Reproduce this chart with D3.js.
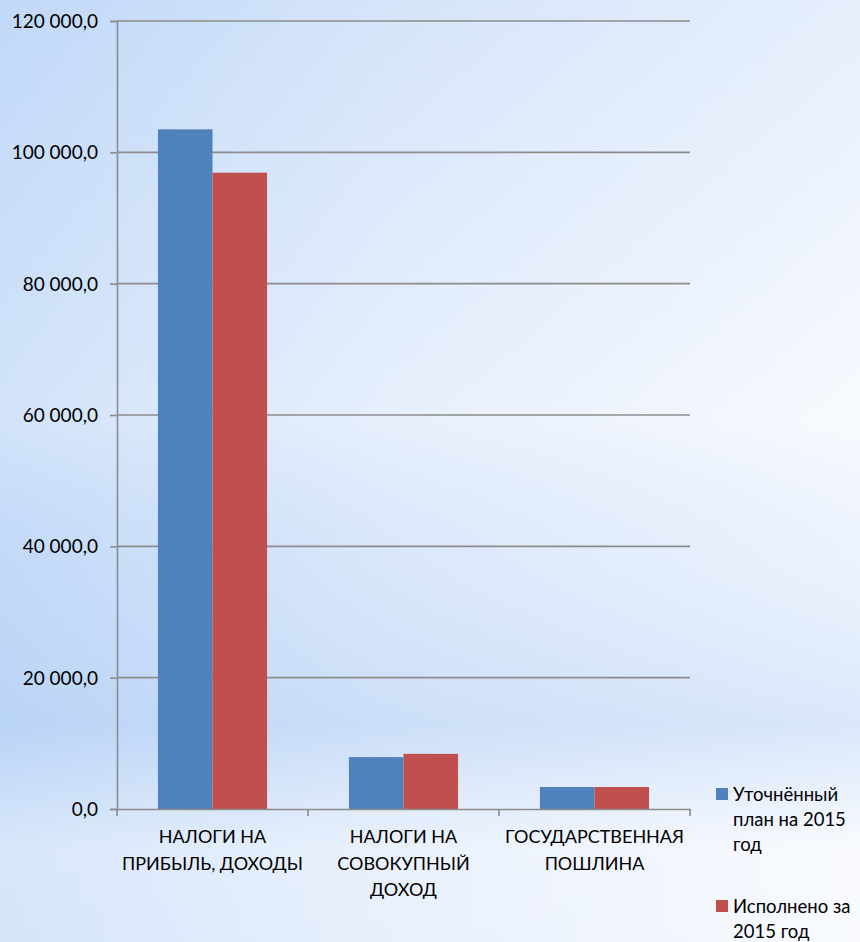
<html>
<head>
<meta charset="utf-8">
<script src="https://d3js.org/d3.v7.min.js"></script>
<style>
  body { margin:0; padding:0; }
  svg text { font-family: Lato, "Open Sans", sans-serif; fill:#000; }
</style>
</head>
<body>
<svg id="chart" width="860" height="942"></svg>
<script>
// data
var categories = ["НАЛОГИ НА ПРИБЫЛЬ, ДОХОДЫ", "НАЛОГИ НА СОВОКУПНЫЙ ДОХОД", "ГОСУДАРСТВЕННАЯ ПОШЛИНА"];
var catLines = [["НАЛОГИ НА", "ПРИБЫЛЬ, ДОХОДЫ"], ["НАЛОГИ НА", "СОВОКУПНЫЙ", "ДОХОД"], ["ГОСУДАРСТВЕННАЯ", "ПОШЛИНА"]];
var seriesNames = ["Уточнённый план на 2015 год", "Исполнено за 2015 год"];
var legendLines = [["Уточнённый", "план на 2015", "год"], ["Исполнено за", "2015 год"]];
var planValues = [103500, 7900, 3350];
var factValues = [96900, 8400, 3350];
var yTicks = [0, 20000, 40000, 60000, 80000, 100000, 120000];
var colors = ["#4f81bd", "#c0504d"];

var svg = d3.select("#chart");

// background
var defs = svg.append("defs");
var g1 = defs.append("linearGradient").attr("id", "bgH").attr("x1", 0).attr("x2", 1).attr("y1", 0).attr("y2", 0);
g1.append("stop").attr("offset", "0%").attr("stop-color", "#c3daf8");
g1.append("stop").attr("offset", "45%").attr("stop-color", "#dfeafb");
g1.append("stop").attr("offset", "100%").attr("stop-color", "#f5f8fe");
var g2 = defs.append("linearGradient").attr("id", "bgV").attr("x1", 0).attr("x2", 0).attr("y1", 0).attr("y2", 1);
g2.append("stop").attr("offset", "0%").attr("stop-color", "#b9d3f6").attr("stop-opacity", 0.25);
g2.append("stop").attr("offset", "45%").attr("stop-color", "#ffffff").attr("stop-opacity", 0.25);
g2.append("stop").attr("offset", "60%").attr("stop-color", "#b9d3f6").attr("stop-opacity", 0.15);
g2.append("stop").attr("offset", "77%").attr("stop-color", "#a9c8f3").attr("stop-opacity", 0.35);
g2.append("stop").attr("offset", "90%").attr("stop-color", "#ffffff").attr("stop-opacity", 0.35);
g2.append("stop").attr("offset", "100%").attr("stop-color", "#ffffff").attr("stop-opacity", 0.3);
svg.append("rect").attr("width", 860).attr("height", 942).attr("fill", "url(#bgH)");
svg.append("rect").attr("width", 860).attr("height", 942).attr("fill", "url(#bgV)");

var plotLeft = 117, plotRight = 690, plotTop = 21, plotBottom = 809;

var x = d3.scaleBand().domain(categories).range([plotLeft, plotRight]).paddingInner(0).paddingOuter(0);
var x1 = d3.scaleBand().domain([0, 1]).range([0, x.bandwidth()]).paddingInner(0).paddingOuter(0.75);
var y = d3.scaleLinear().domain([0, 120000]).range([plotBottom, plotTop]);

var fmt = function (d) {
  return d3.format(",.1f")(d).replace(/,/g, " ").replace(".", ",");
};

// gridlines
svg.append("g").selectAll("line").data(yTicks.filter(function (d) { return d > 0; })).enter()
  .append("line")
  .attr("x1", plotLeft).attr("x2", plotRight)
  .attr("y1", function (d) { return y(d); }).attr("y2", function (d) { return y(d); })
  .attr("stroke", "#8c8c8c").attr("stroke-width", 1.6);

// bars
var data = categories.map(function (c, i) { return { cat: c, vals: [planValues[i], factValues[i]] }; });
var groups = svg.append("g").selectAll("g").data(data).enter().append("g")
  .attr("transform", function (d) { return "translate(" + x(d.cat) + ",0)"; });
groups.selectAll("rect").data(function (d) { return d.vals; }).enter().append("rect")
  .attr("x", function (d, i) { return x1(i); })
  .attr("width", x1.bandwidth())
  .attr("y", function (d) { return y(d); })
  .attr("height", function (d) { return plotBottom - y(d); })
  .attr("fill", function (d, i) { return colors[i]; });

// y axis
var yAxis = svg.append("g").attr("transform", "translate(" + plotLeft + ",0)")
  .call(d3.axisLeft(y).tickValues(yTicks).tickFormat(fmt).tickSize(7).tickPadding(12));
yAxis.select(".domain").attr("stroke", "#8c8c8c").attr("stroke-width", 1.6);
yAxis.selectAll(".tick line").attr("stroke", "#8c8c8c").attr("stroke-width", 1.6);
yAxis.selectAll(".tick text").attr("font-size", 19).attr("font-family", "Lato, sans-serif").attr("fill", "#000").attr("dy", "0.35em");

// x axis
var xAxis = svg.append("g").attr("transform", "translate(0," + plotBottom + ")")
  .call(d3.axisBottom(x).tickSize(0).tickFormat(""));
xAxis.select(".domain").attr("stroke", "#8c8c8c").attr("stroke-width", 1.6);
xAxis.append("g").selectAll("line").data(d3.range(categories.length + 1)).enter().append("line")
  .attr("x1", function (i) { return plotLeft + i * x.step(); })
  .attr("x2", function (i) { return plotLeft + i * x.step(); })
  .attr("y1", 0).attr("y2", 7)
  .attr("stroke", "#8c8c8c").attr("stroke-width", 1.6);

// category labels
var lab = svg.append("g").selectAll("text").data(categories).enter().append("text")
  .attr("text-anchor", "middle")
  .attr("font-size", 18)
  .attr("x", function (d) { return x(d) + x.bandwidth() / 2; })
  .attr("y", 843);
lab.selectAll("tspan").data(function (d, i) { return catLines[i]; }).enter().append("tspan")
  .attr("x", function () { return d3.select(this.parentNode).attr("x"); })
  .attr("dy", function (d, i) { return i === 0 ? 0 : 26.5; })
  .text(function (d) { return d; });

// legend
var legY = [794, 906];
var leg = svg.append("g").selectAll("g").data(seriesNames).enter().append("g");
leg.append("rect")
  .attr("x", 716).attr("y", function (d, i) { return legY[i] - 6; })
  .attr("width", 12).attr("height", 12)
  .attr("fill", function (d, i) { return colors[i]; });
var lt = leg.append("text").attr("font-size", 18.5).attr("x", 733)
  .attr("y", function (d, i) { return legY[i] + 7; });
lt.selectAll("tspan").data(function (d, i) { return legendLines[i]; }).enter().append("tspan")
  .attr("x", 733)
  .attr("dy", function (d, i) { return i === 0 ? 0 : 25; })
  .text(function (d) { return d; });
</script>
</body>
</html>
